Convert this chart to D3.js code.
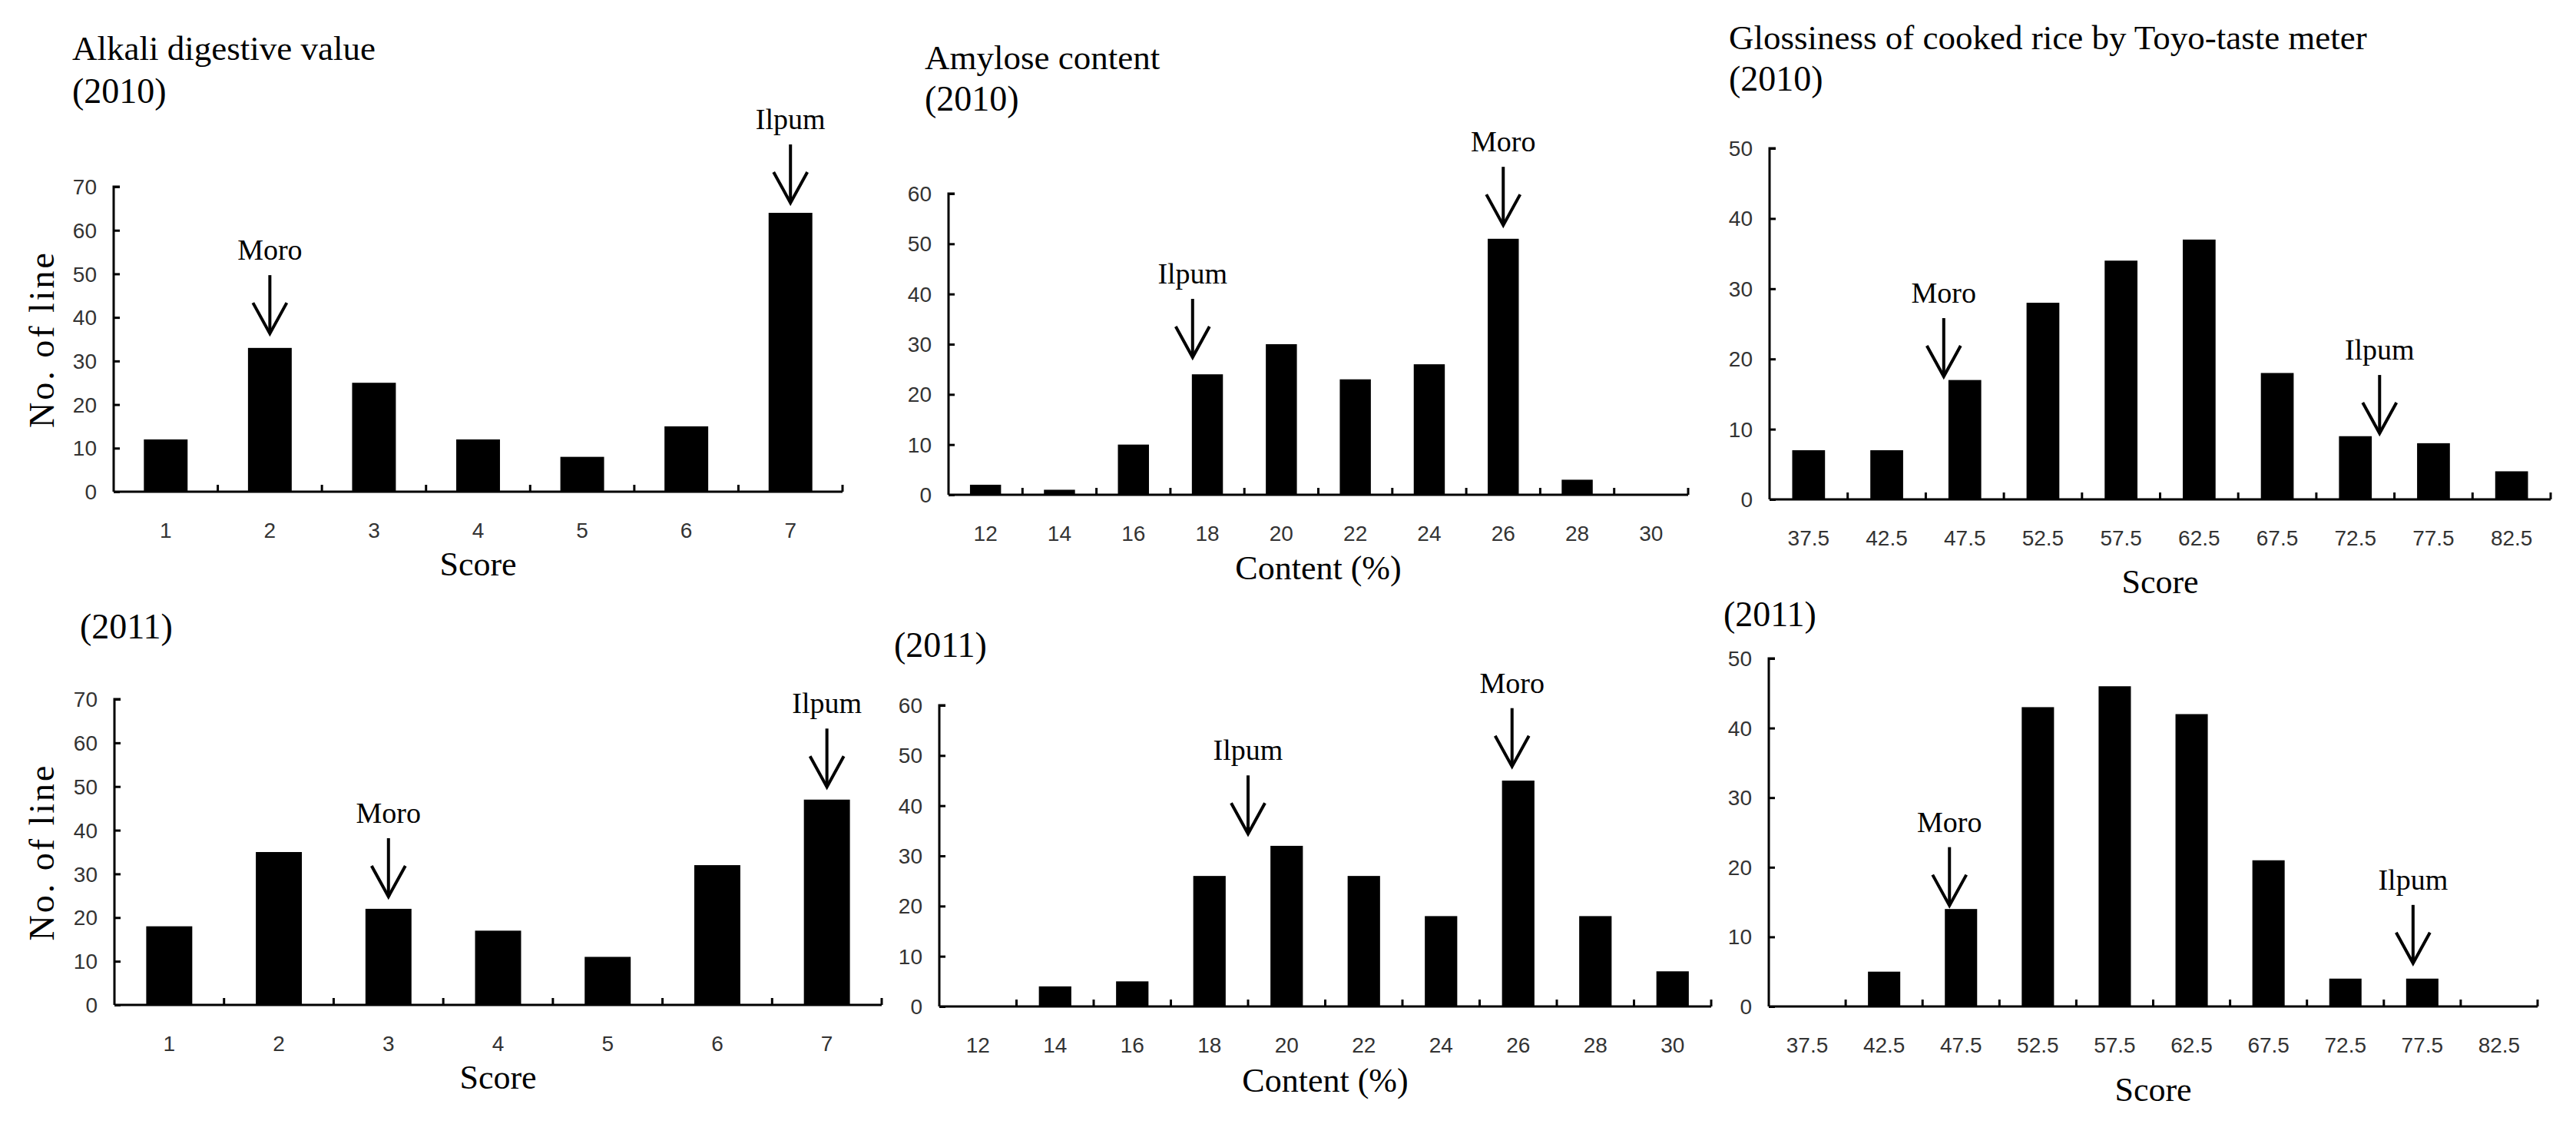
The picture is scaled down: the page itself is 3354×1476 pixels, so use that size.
<!DOCTYPE html>
<html>
<head>
<meta charset="utf-8">
<script src="https://cdn.jsdelivr.net/npm/d3@7"></script>
<style>
  html, body { margin: 0; padding: 0; background: #fff; }
  svg { display: block; }
</style>
</head>
<body>
<svg id="chart" width="3354" height="1476"></svg>
<script>
// ---------- data ----------
const alkaliScores = ["1", "2", "3", "4", "5", "6", "7"];
const amyloseBins = ["12", "14", "16", "18", "20", "22", "24", "26", "28", "30"];
const glossBins = ["37.5", "42.5", "47.5", "52.5", "57.5", "62.5", "67.5", "72.5", "77.5", "82.5"];

const alkali2010 = [12, 33, 25, 12, 8, 15, 64];
const alkali2011 = [18, 35, 22, 17, 11, 32, 47];
const amylose2010 = [2, 1, 10, 24, 30, 23, 26, 51, 3, 0];
const amylose2011 = [0, 4, 5, 26, 32, 26, 18, 45, 18, 7];
const gloss2010 = [7, 7, 17, 28, 34, 37, 18, 9, 8, 4];
const gloss2011 = [0, 5, 14, 43, 46, 42, 21, 4, 4, 0];

const alkaliTicks = [0, 10, 20, 30, 40, 50, 60, 70];
const amyloseTicks = [0, 10, 20, 30, 40, 50, 60];
const glossTicks = [0, 10, 20, 30, 40, 50];

// arrow annotations: bin = position in category index units, tip = value at arrow tip
const alkali2010Arrows = [{ label: "Moro", bin: 1.0, tip: 36.3 }, { label: "Ilpum", bin: 6.0, tip: 66.3 }];
const alkali2011Arrows = [{ label: "Moro", bin: 2.0, tip: 24.8 }, { label: "Ilpum", bin: 6.0, tip: 49.9 }];
const amylose2010Arrows = [{ label: "Ilpum", bin: 2.8, tip: 27.4 }, { label: "Moro", bin: 7.0, tip: 53.7 }];
const amylose2011Arrows = [{ label: "Ilpum", bin: 3.5, tip: 34.4 }, { label: "Moro", bin: 6.92, tip: 47.8 }];
const gloss2010Arrows = [{ label: "Moro", bin: 1.73, tip: 17.5 }, { label: "Ilpum", bin: 7.31, tip: 9.4 }];
const gloss2011Arrows = [{ label: "Moro", bin: 1.85, tip: 14.5 }, { label: "Ilpum", bin: 7.88, tip: 6.2 }];

// ---------- layout ----------
const SERIF = "'Liberation Serif', 'Times New Roman', serif";
const SANS = "'Liberation Sans', Arial, sans-serif";

const panels = [
  { cats: alkaliScores, vals: alkali2010, ticks: alkaliTicks, arrows: alkali2010Arrows,
    x0: 148, x1: 1097, yTop: 243, y0: 640,
    titles: [{ t: "Alkali digestive value", x: 94, y: 78, s: 45 }, { t: "(2010)", x: 94, y: 134, s: 46 }],
    xTitle: "Score", xTitleY: 749, yTitle: "No. of line", yTitleX: 54 },
  { cats: amyloseBins, vals: amylose2010, ticks: amyloseTicks, arrows: amylose2010Arrows,
    x0: 1235, x1: 2198, yTop: 252, y0: 644,
    titles: [{ t: "Amylose content", x: 1204, y: 90, s: 45 }, { t: "(2010)", x: 1204, y: 144, s: 46 }],
    xTitle: "Content (%)", xTitleY: 754 },
  { cats: glossBins, vals: gloss2010, ticks: glossTicks, arrows: gloss2010Arrows,
    x0: 2304, x1: 3321, yTop: 193, y0: 650,
    titles: [{ t: "Glossiness of cooked rice by Toyo-taste meter", x: 2251, y: 64, s: 45 }, { t: "(2010)", x: 2251, y: 118, s: 46 }],
    xTitle: "Score", xTitleY: 772 },
  { cats: alkaliScores, vals: alkali2011, ticks: alkaliTicks, arrows: alkali2011Arrows,
    x0: 149, x1: 1148, yTop: 910, y0: 1308,
    titles: [{ t: "(2011)", x: 104, y: 831, s: 46 }],
    xTitle: "Score", xTitleY: 1417, yTitle: "No. of line", yTitleX: 54 },
  { cats: amyloseBins, vals: amylose2011, ticks: amyloseTicks, arrows: amylose2011Arrows,
    x0: 1223, x1: 2228, yTop: 918, y0: 1310,
    titles: [{ t: "(2011)", x: 1164, y: 855, s: 46 }],
    xTitle: "Content (%)", xTitleY: 1421 },
  { cats: glossBins, vals: gloss2011, ticks: glossTicks, arrows: gloss2011Arrows,
    x0: 2303, x1: 3304, yTop: 857, y0: 1310,
    titles: [{ t: "(2011)", x: 2244, y: 815, s: 46 }],
    xTitle: "Score", xTitleY: 1433 }
];

const svg = d3.select("#chart");
svg.append("rect").attr("width", 3354).attr("height", 1476).attr("fill", "#fff");

panels.forEach(p => {
  const g = svg.append("g");
  const n = p.cats.length;
  const x = d3.scaleBand().domain(p.cats).range([p.x0, p.x1]).paddingInner(0.58).paddingOuter(0.29);
  const xi = d3.scaleLinear().domain([0, n]).range([p.x0, p.x1]);
  const yMax = p.ticks[p.ticks.length - 1];
  const y = d3.scaleLinear().domain([0, yMax]).range([p.y0, p.yTop]);

  // bars
  g.selectAll("rect.bar").data(p.vals).join("rect")
    .attr("class", "bar")
    .attr("x", (d, i) => x(p.cats[i]))
    .attr("width", x.bandwidth())
    .attr("y", d => y(d))
    .attr("height", d => y(0) - y(d))
    .attr("fill", "#000");

  // y axis (ticks pointing inward)
  const yAxis = d3.axisRight(y).tickValues(p.ticks).tickSize(8).tickFormat("");
  const ya = g.append("g").attr("transform", `translate(${p.x0},0)`).call(yAxis);
  ya.select(".domain").attr("stroke", "#000").attr("stroke-width", 3).attr("d", `M8,${p.yTop}H0V${p.y0}`);
  ya.selectAll(".tick line").attr("stroke", "#000").attr("stroke-width", 3);

  // y tick labels
  g.selectAll("text.ylab").data(p.ticks).join("text")
    .attr("class", "ylab")
    .attr("x", p.x0 - 22)
    .attr("y", d => y(d))
    .attr("dy", "0.36em")
    .attr("text-anchor", "end")
    .attr("font-family", SANS)
    .attr("font-size", 28)
    .attr("fill", "#333")
    .text(d => d);

  // x axis line with inward ticks at bin boundaries
  g.append("line")
    .attr("x1", p.x0).attr("x2", p.x1)
    .attr("y1", y(0)).attr("y2", y(0))
    .attr("stroke", "#000").attr("stroke-width", 3);
  g.selectAll("line.xt").data(d3.range(1, n + 1)).join("line")
    .attr("class", "xt")
    .attr("x1", k => xi(k)).attr("x2", k => xi(k))
    .attr("y1", y(0)).attr("y2", y(0) - 9)
    .attr("stroke", "#000").attr("stroke-width", 3);

  // x tick labels
  g.selectAll("text.xlab").data(p.cats).join("text")
    .attr("class", "xlab")
    .attr("x", d => x(d) + x.bandwidth() / 2)
    .attr("y", y(0) + 50)
    .attr("dy", "0.36em")
    .attr("text-anchor", "middle")
    .attr("font-family", SANS)
    .attr("font-size", 28)
    .attr("fill", "#333")
    .text(d => d);

  // axis titles
  g.append("text")
    .attr("x", (p.x0 + p.x1) / 2)
    .attr("y", p.xTitleY)
    .attr("text-anchor", "middle")
    .attr("font-family", SERIF)
    .attr("font-size", 44)
    .attr("fill", "#000")
    .text(p.xTitle);

  if (p.yTitle) {
    const cy = (p.y0 + p.yTop) / 2;
    g.append("text")
      .attr("transform", `translate(${p.yTitleX},${cy}) rotate(-90)`)
      .attr("dy", "0.35em")
      .attr("text-anchor", "middle")
      .attr("font-family", SERIF)
      .attr("font-size", 46)
      .attr("letter-spacing", 3)
      .attr("fill", "#000")
      .text(p.yTitle);
  }

  // titles
  p.titles.forEach(t => {
    g.append("text")
      .attr("x", t.x).attr("y", t.y)
      .attr("font-family", SERIF)
      .attr("font-size", t.s)
      .attr("fill", "#000")
      .text(t.t);
  });

  // arrows
  const arrowLen = 76, headH = 40, headW = 22;
  p.arrows.forEach(a => {
    const ax = xi(a.bin + 0.5);
    const ty = y(a.tip);
    g.append("line")
      .attr("x1", ax).attr("x2", ax)
      .attr("y1", ty - arrowLen).attr("y2", ty - 2)
      .attr("stroke", "#000").attr("stroke-width", 4);
    g.append("path")
      .attr("d", `M${ax - headW},${ty - headH}L${ax},${ty}L${ax + headW},${ty - headH}`)
      .attr("fill", "none").attr("stroke", "#000").attr("stroke-width", 4)
      .attr("stroke-linejoin", "miter");
    g.append("text")
      .attr("x", ax).attr("y", ty - arrowLen - 20)
      .attr("text-anchor", "middle")
      .attr("font-family", SERIF)
      .attr("font-size", 38)
      .attr("fill", "#000")
      .text(a.label);
  });
});
</script>
</body>
</html>
